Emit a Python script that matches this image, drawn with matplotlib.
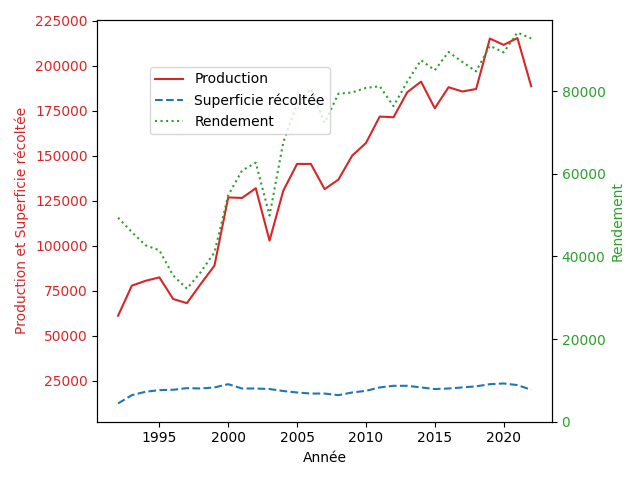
import matplotlib
matplotlib.use('Agg')
import matplotlib.pyplot as plt

# Data
annees = list(range(1992, 2023))
production = [61100, 77800, 80500, 82400, 70400, 68100, 78700, 88900, 126800, 126500,
              131900, 102800, 130600, 145400, 145400, 131400, 136700, 150000, 157000, 171700,
              171300, 185200, 191100, 176300, 188000, 185600, 187000, 215000, 211500, 215300,
              188500]
superficie = [12400, 17000, 18900, 19800, 20000, 20900, 20700, 21300, 23100, 20700,
              20700, 20400, 19300, 18500, 17900, 17900, 17000, 18500, 19400, 21300,
              22200, 22200, 21300, 20400, 20700, 21300, 21900, 23100, 23500, 22600,
              20000]
rendement = [49400, 45900, 42700, 41500, 35400, 32200, 36200, 41000, 54800, 60800,
             62700, 49900, 67700, 76900, 80600, 72400, 79400, 79700, 80800, 81200,
             76400, 82300, 87500, 85100, 89500, 87100, 84800, 91000, 89400, 94200,
             92800]

fig, ax1 = plt.subplots(figsize=(6.4, 4.8), dpi=100)

l1, = ax1.plot(annees, production, color='tab:red', linestyle='-', label='Production')
l2, = ax1.plot(annees, superficie, color='tab:blue', linestyle='--', label='Superficie récoltée')
ax1.set_xlabel('Année')
ax1.set_ylabel('Production et Superficie récoltée', color='tab:red')
ax1.tick_params(axis='y', labelcolor='tab:red')

ax2 = ax1.twinx()
l3, = ax2.plot(annees, rendement, color='tab:green', linestyle=':', label='Rendement')
ax2.set_ylabel('Rendement', color='tab:green')
ax2.tick_params(axis='y', labelcolor='tab:green')
ax2.set_ylim(bottom=0)

lignes = [l1, l2, l3]
ax2.legend(lignes, [l.get_label() for l in lignes], loc='upper left', bbox_to_anchor=(0.1, 0.9))

fig.tight_layout()
fig.savefig('out.png')
